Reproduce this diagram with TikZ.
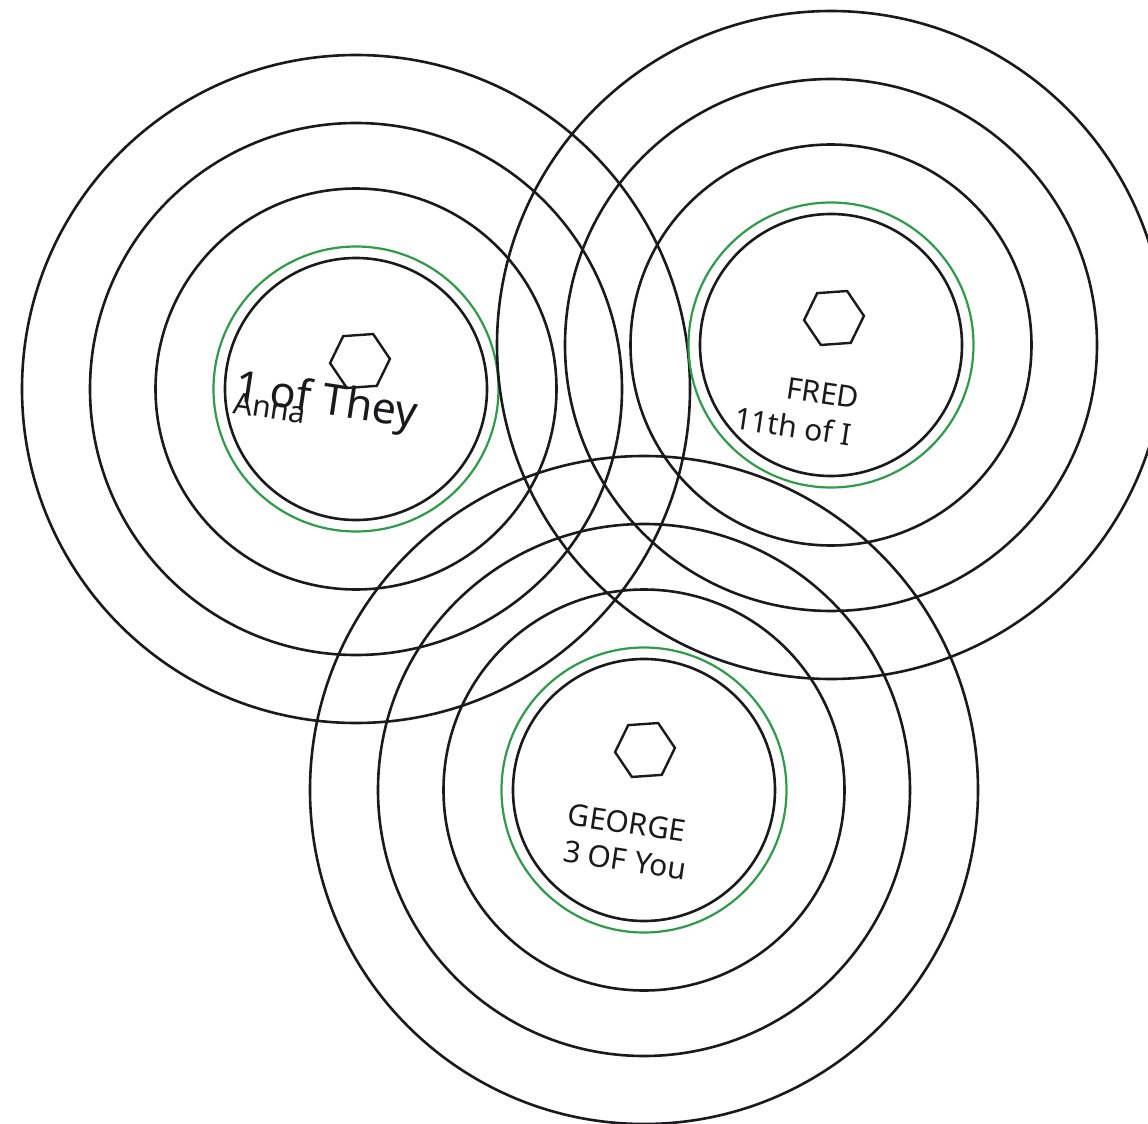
\documentclass[tikz,border=0pt]{standalone}
\usepackage{fontspec}
\setmainfont{Noto Sans}
\usepackage{tikz}
\usepackage{xcolor}
\usetikzlibrary{shapes.geometric}
\definecolor{ink}{HTML}{1A1A1C}
\definecolor{ringgreen}{HTML}{2E9B48}

\begin{document}
\begin{tikzpicture}[
  x=0.5pt,y=-0.5pt,
  ring/.style={draw=ink,line width=1.3pt},
  goal/.style={draw=ringgreen,line width=1.1pt},
  hexa/.style={regular polygon,regular polygon sides=6,draw=ink,line width=1.2pt,minimum size=30pt,inner sep=0pt,rotate=4},
  tag/.style={text=ink,font=\fontsize{15}{18}\selectfont,inner sep=0pt,rotate=-8.5}
]
\clip (0,0) rectangle (1148,1124);
\coordinate (anna) at (356,389);
\coordinate (fred) at (831,345);
\coordinate (george) at (644,790);
% rings round each person
\foreach \who in {anna,fred,george}{
  \foreach \r in {131,200.5,266,334}
    \draw[ring] (\who) circle[radius=\r];
  \draw[goal] (\who) circle[radius=142.5];
}
% Anna
\node[hexa] (hexA) at (360,361) {};
\node[tag,font=\fontsize{21.5}{24}\selectfont] (theyA) at (326,403) {1 of They};
\node[tag] (nameA) at (270,408) {Anna};
% Fred
\node[hexa] (hexF) at (834,318) {};
\node[tag] (nameF) at (823,393) {FRED};
\node[tag] (rankF) at (793,426) {11th of I};
% George
\node[hexa] (hexG) at (645,750) {};
\node[tag] (nameG) at (627,823) {GEORGE};
\node[tag] (rankG) at (625,860) {3 OF You};
\end{tikzpicture}
\end{document}
